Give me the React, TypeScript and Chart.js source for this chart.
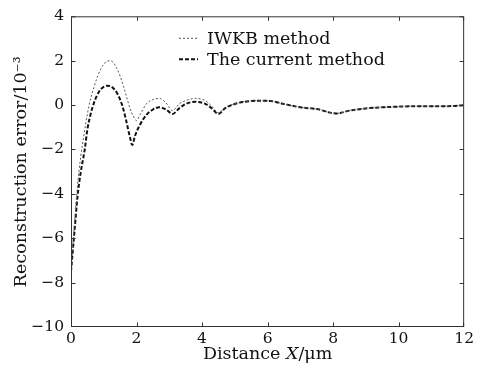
import React, { useEffect, useRef } from "react";
import { Chart, registerables } from "chart.js";
Chart.register(...registerables);

const xTicks = [0, 2, 4, 6, 8, 10, 12];
const yTicks = [-10, -8, -6, -4, -2, 0, 2, 4];
const seriesNames = ["IWKB method", "The current method"];
const xTitleParts = ["Distance ", "X", "/μm"];

const currentX = [0, 0.1, 0.2, 0.3, 0.42, 0.5, 0.6, 0.7, 0.8, 0.9, 1.0, 1.1, 1.2, 1.3, 1.4, 1.5, 1.6, 1.7, 1.8, 1.87, 1.95, 2.1, 2.3, 2.5, 2.7, 2.9, 3.1, 3.3, 3.5, 3.8, 4.1, 4.3, 4.5, 4.7, 5.0, 5.3, 5.7, 6.1, 6.5, 7.0, 7.5, 8.1, 8.5, 9.0, 9.5, 10, 10.5, 11, 11.5, 12];
const currentY = [-7.5, -5.8, -4.1, -3.0, -2.0, -1.1, -0.4, 0.1, 0.45, 0.7, 0.82, 0.87, 0.85, 0.75, 0.55, 0.25, -0.2, -0.8, -1.45, -1.8, -1.4, -0.9, -0.45, -0.2, -0.1, -0.2, -0.4, -0.15, 0.05, 0.15, 0.05, -0.15, -0.4, -0.15, 0.05, 0.15, 0.2, 0.18, 0.05, -0.1, -0.18, -0.38, -0.25, -0.15, -0.1, -0.07, -0.05, -0.05, -0.05, 0.0];

const iwkbX = [0, 0.1, 0.2, 0.3, 0.4, 0.5, 0.6, 0.7, 0.8, 0.9, 1.0, 1.1, 1.2, 1.3, 1.4, 1.5, 1.6, 1.7, 1.8, 1.9, 2.0, 2.1, 2.3, 2.5, 2.7, 2.9, 3.1, 3.3, 3.5, 3.8, 4.1, 4.3, 4.5, 4.7, 5.0, 5.3, 5.7, 6.1, 6.5, 7.0, 7.5, 8.1, 8.5, 9.0, 9.5, 10, 10.5, 11, 11.5, 12];
const iwkbY = [-7.5, -5.5, -3.6, -2.3, -1.3, -0.4, 0.3, 0.8, 1.25, 1.6, 1.85, 1.97, 2.0, 1.9, 1.65, 1.3, 0.85, 0.35, -0.15, -0.5, -0.7, -0.45, 0.05, 0.25, 0.3, 0.1, -0.25, 0.05, 0.2, 0.3, 0.2, -0.05, -0.35, -0.12, 0.06, 0.16, 0.2, 0.18, 0.05, -0.1, -0.18, -0.38, -0.25, -0.15, -0.1, -0.07, -0.05, -0.05, -0.05, 0.0];

const FONT = "'DejaVu Serif', serif";

const framePlugin = {
  id: "frameTicks",
  afterDraw(chart: any) {
    const { ctx, chartArea: a, scales } = chart;
    ctx.save();
    ctx.strokeStyle = "#333";
    ctx.lineWidth = 1;
    const l = a.left + 0.5, r = a.right - 0.5, t = a.top + 0.5, b = a.bottom - 0.5;
    ctx.strokeRect(l, t, r - l, b - t);
    const L = 4;
    ctx.beginPath();
    xTicks.forEach((v) => {
      const px = Math.min(r, Math.max(l, Math.round(scales.x.getPixelForValue(v)) + 0.5));
      ctx.moveTo(px, b);
      ctx.lineTo(px, b - L);
      ctx.moveTo(px, t);
      ctx.lineTo(px, t + L);
    });
    yTicks.forEach((v) => {
      const py = Math.min(b, Math.max(t, Math.round(scales.y.getPixelForValue(v)) + 0.5));
      ctx.moveTo(l, py);
      ctx.lineTo(l + L, py);
      ctx.moveTo(r, py);
      ctx.lineTo(r - L, py);
    });
    ctx.stroke();

    // legend
    const lx = a.left + 108;
    const rows = [
      { y: a.top + 22, dash: [2, 2], w: 1, c: "#555" },
      { y: a.top + 43, dash: [4, 2], w: 2, c: "#111" },
    ];
    ctx.font = "17.5px " + FONT;
    ctx.textBaseline = "middle";
    ctx.fillStyle = "#111";
    rows.forEach((row, i) => {
      ctx.beginPath();
      ctx.setLineDash(row.dash);
      ctx.lineWidth = row.w;
      ctx.strokeStyle = row.c;
      ctx.moveTo(lx, row.y);
      ctx.lineTo(lx + 19, row.y);
      ctx.stroke();
      ctx.setLineDash([]);
      ctx.fillText(seriesNames[i], lx + 28, row.y + 1);
    });

    // x-axis title with italic X
    const fonts = ["17.5px " + FONT, "italic 17.5px " + FONT, "17.5px " + FONT];
    const widths = xTitleParts.map((s, i) => { ctx.font = fonts[i]; return ctx.measureText(s).width; });
    const total = widths.reduce((p, c) => p + c, 0);
    let cx = (a.left + a.right) / 2 - total / 2;
    const ty = a.bottom + 27;
    ctx.textAlign = "left";
    xTitleParts.forEach((s, i) => {
      ctx.font = fonts[i];
      ctx.fillText(s, cx, ty);
      cx += widths[i];
    });
    ctx.restore();
  },
};

export default function App() {
  const ref = useRef<HTMLCanvasElement>(null);
  useEffect(() => {
    const chart = new Chart(ref.current!, {
      type: "scatter",
      data: {
        datasets: [
          {
            label: seriesNames[0],
            data: iwkbX.map((x, i) => ({ x, y: iwkbY[i] })),
            showLine: true,
            borderColor: "#555",
            borderWidth: 1,
            borderDash: [2, 2],
            pointRadius: 0,
            cubicInterpolationMode: "monotone",
          },
          {
            label: seriesNames[1],
            data: currentX.map((x, i) => ({ x, y: currentY[i] })),
            showLine: true,
            borderColor: "#111",
            borderWidth: 2,
            borderDash: [4, 2],
            pointRadius: 0,
            cubicInterpolationMode: "monotone",
          },
        ],
      },
      options: {
        animation: false,
        responsive: false,
        layout: { padding: { left: 0, right: 8, top: 15, bottom: 0 } },
        plugins: { legend: { display: false }, tooltip: { enabled: false } },
        scales: {
          x: {
            type: "linear",
            min: 0,
            max: 12,
            afterBuildTicks: (s: any) => { s.ticks = xTicks.map((v) => ({ value: v })); },
            afterFit: (s: any) => { s.height = 45; },
            grid: { display: false, drawTicks: false },
            border: { display: false },
            ticks: { color: "#111", font: { family: FONT, size: 15.5 }, padding: 3, maxRotation: 0 },
            title: { display: false },
          },
          y: {
            type: "linear",
            min: -10,
            max: 4,
            afterBuildTicks: (s: any) => { s.ticks = yTicks.map((v) => ({ value: v })); },
            afterFit: (s: any) => { s.width = 71; },
            grid: { display: false, drawTicks: false },
            border: { display: false },
            ticks: {
              color: "#111",
              font: { family: FONT, size: 15.5 },
              padding: 7,
              callback: (v: any) => (v < 0 ? "−" + Math.abs(v) : String(v)),
            },
            title: { display: true, text: "Reconstruction error/10⁻³", color: "#111", font: { family: FONT, size: 17.5 }, padding: { top: 11, bottom: 0 } },
          },
        },
      },
      plugins: [framePlugin],
    } as any);
    return () => chart.destroy();
  }, []);
  return (
    <div style={{ position: "absolute", left: 0, top: 0, width: 477, height: 372, background: "#fff" }}>
      <canvas ref={ref} width={477} height={372} style={{ display: "block" }} />
    </div>
  );
}
